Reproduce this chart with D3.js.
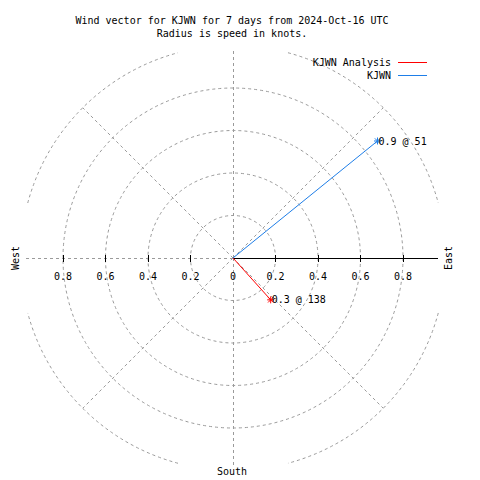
<!DOCTYPE html>
<html>
<head>
<meta charset="utf-8">
<script src="https://cdn.jsdelivr.net/npm/d3@7"></script>
<style>
  html, body { margin: 0; padding: 0; background: #fff; }
  svg { display: block; }
  text { font-family: "DejaVu Sans Mono", monospace; font-size: 10px; fill: #000; }
</style>
</head>
<body>
<svg id="chart" width="480" height="480"></svg>
<script>
// ---- data ----
const titleLines = ["Wind vector for KJWN for 7 days from 2024-Oct-16 UTC", "Radius is speed in knots."];
const seriesNames = ["KJWN Analysis", "KJWN"];
const seriesColors = ["#ff0000", "#1e7ee8"];
const speeds = [0.265, 0.875];       // knots
const directions = [138, 51];        // degrees, clockwise from north
const ringValues = [0.2, 0.4, 0.6, 0.8];
const tickValues = [0.2, 0.4, 0.6, 0.8];
const tickLabels = ["0.2", "0.4", "0.6", "0.8"];
const compassLabels = ["West", "East", "South"];

// ---- layout ----
const svg = d3.select("#chart");
const cx = 233, cy = 258;
const r = d3.scaleLinear().domain([0, 1]).range([0, 212.5]);
const grey = "#9a9a9a";
const dash = "3,3";

const g = svg.append("g").attr("transform", `translate(${cx},${cy})`);

function pt(bearing, v) {
  const a = bearing * Math.PI / 180;
  return [r(v) * Math.sin(a), -r(v) * Math.cos(a)];
}

// rings
g.selectAll("circle.ring").data(ringValues).enter().append("circle")
  .attr("class", "ring").attr("r", d => r(d))
  .attr("fill", "none").attr("stroke", grey).attr("stroke-dasharray", dash);

// outer partial arcs (1.0)
[0, 90, 180, 270].forEach(q => {
  const p = d3.path();
  const a0 = (q + 15 - 90) * Math.PI / 180, a1 = (q + 75 - 90) * Math.PI / 180;
  p.moveTo(r(1) * Math.cos(a0), r(1) * Math.sin(a0));
  p.arc(0, 0, r(1), a0, a1, false);
  g.append("path").attr("d", p.toString())
    .attr("fill", "none").attr("stroke", grey).attr("stroke-dasharray", dash);
});

// diagonal spokes
[45, 135, 225, 315].forEach(b => {
  const p = pt(b, 1);
  g.append("line").attr("x1", 0).attr("y1", 0).attr("x2", p[0]).attr("y2", p[1])
    .attr("stroke", grey).attr("stroke-dasharray", dash);
});
// axis spokes (N, S, W dashed)
[0, 180, 270].forEach(b => {
  const p = pt(b, 0.975);
  g.append("line").attr("x1", 0).attr("y1", 0).attr("x2", p[0]).attr("y2", p[1])
    .attr("stroke", grey).attr("stroke-dasharray", dash).attr("shape-rendering", "crispEdges");
});

// solid east axis
g.append("line").attr("x1", 0).attr("y1", 0).attr("x2", r(0.965)).attr("y2", 0)
  .attr("stroke", "#000").attr("stroke-width", 1).attr("shape-rendering", "crispEdges");

// ticks
tickValues.forEach(v => {
  [-1, 1].forEach(s => {
    g.append("line").attr("x1", s * r(v)).attr("x2", s * r(v)).attr("y1", -3.5).attr("y2", 3.5)
      .attr("stroke", "#000").attr("stroke-width", 1).attr("shape-rendering", "crispEdges");
  });
});

// tick labels
tickValues.forEach((v, i) => {
  g.append("text").attr("x", -r(v)).attr("y", 22).attr("text-anchor", "middle").text(tickLabels[i]);
  g.append("text").attr("x", r(v)).attr("y", 22).attr("text-anchor", "middle").text(tickLabels[i]);
});
g.append("text").attr("x", 0).attr("y", 22).attr("text-anchor", "middle").text("0");

// compass labels
svg.append("text").attr("transform", `translate(19,${cy}) rotate(-90)`).attr("text-anchor", "middle").text(compassLabels[0]);
svg.append("text").attr("transform", `translate(452,${cy}) rotate(-90)`).attr("text-anchor", "middle").text(compassLabels[1]);
svg.append("text").attr("x", cx - 1).attr("y", 475).attr("text-anchor", "middle").text(compassLabels[2]);

// vectors
speeds.forEach((s, i) => {
  const p = pt(directions[i], s);
  g.append("line").attr("x1", 0).attr("y1", 0).attr("x2", p[0]).attr("y2", p[1])
    .attr("stroke", seriesColors[i]).attr("stroke-width", 1);
  const star = g.append("g").attr("transform", `translate(${p[0]},${p[1]})`);
  const m = 3.5;
  [[-m, 0, m, 0], [0, -m, 0, m], [-m * 0.75, -m * 0.75, m * 0.75, m * 0.75], [-m * 0.75, m * 0.75, m * 0.75, -m * 0.75]].forEach(l => {
    star.append("line").attr("x1", l[0]).attr("y1", l[1]).attr("x2", l[2]).attr("y2", l[3])
      .attr("stroke", seriesColors[i]).attr("stroke-width", 1);
  });
  g.append("text").attr("x", p[0] + 1).attr("y", p[1] + 3.5)
    .text(`${d3.format(".1f")(s)} @ ${directions[i]}`);
});

// title
titleLines.forEach((t, i) => {
  svg.append("text").attr("x", 232).attr("y", 24 + i * 13).attr("text-anchor", "middle").text(t);
});

// legend
seriesNames.forEach((n, i) => {
  const y = 66 + i * 13;
  svg.append("text").attr("x", 391).attr("y", y).attr("text-anchor", "end").text(n);
  svg.append("line").attr("x1", 398).attr("x2", 427).attr("y1", y - 4).attr("y2", y - 4)
    .attr("stroke", seriesColors[i]).attr("stroke-width", 1).attr("shape-rendering", "crispEdges");
});
</script>
</body>
</html>
